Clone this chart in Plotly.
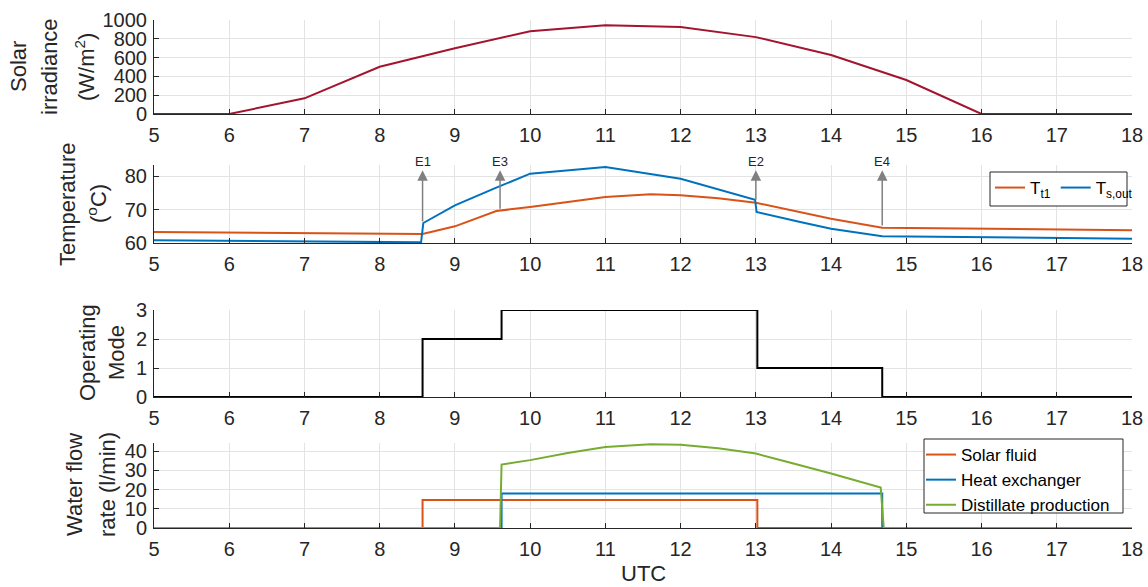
import plotly.graph_objects as go

# ---------------- data ----------------
irr_hours = [5, 6, 7, 8, 9, 10, 11, 12, 13, 14, 15, 16, 17, 18]
irr_values = [0, 0, 167, 503, 700, 880, 945, 925, 818, 628, 362, 0, 0, 0]

tt1_time = [5, 8.0, 8.57, 9.0, 9.55, 10, 10.5, 11, 11.6, 12, 12.5, 13, 14, 14.68, 18]
tt1_values = [63.3, 62.8, 62.7, 65.0, 69.6, 70.8, 72.4, 73.8, 74.6, 74.3, 73.4, 72.1, 67.3, 64.6, 63.8]

tsout_time = [5, 8.55, 8.58, 9.0, 9.55, 10, 11, 12, 12.99, 13.01, 13.59, 14, 14.68, 18]
tsout_values = [60.8, 60.2, 66.0, 71.3, 76.6, 80.8, 82.8, 79.3, 73.0, 69.3, 66.3, 64.3, 62.0, 61.3]

event_names = ["E1", "E3", "E2", "E4"]
event_time = [8.57, 9.6, 13.0, 14.68]
event_base = [66.0, 69.8, 72.5, 64.8]
event_tip = 81.8

mode_time = [5, 8.57, 9.62, 13.02, 14.68, 18]
mode_values = [0, 2, 3, 1, 0, 0]

solar_time = [5, 8.57, 13.02, 18]
solar_values = [0, 14.6, 0, 0]

hx_time = [5, 9.62, 14.68, 18]
hx_values = [0, 17.9, 0, 0]

dist_time = [5, 9.6, 9.62, 9.8, 10, 10.5, 11, 11.6, 12, 12.5, 13, 13.5, 14, 14.66, 14.7, 18]
dist_values = [0, 0, 33.0, 34.0, 35.3, 39.0, 42.1, 43.5, 43.3, 41.5, 38.7, 33.5, 28.3, 21.0, 0, 0]

x_ticks = list(range(5, 19))

# ---------------- style ----------------
W, H = 1148, 587
FONT = "Liberation Sans, Arial, sans-serif"
TXT = "#262626"
GRID = "#e3e3e3"
ORANGE = "#D95319"
BLUE = "#0072BD"
GREEN = "#77AC30"
RED = "#A2142F"

def px_x(p):
    return p / W

def px_y(p):
    return 1 - p / H

X0, X1 = 154, 1132
panels = [(20, 114), (165, 243), (310, 397), (443, 528)]

fig = go.Figure()

fig.add_trace(go.Scatter(x=irr_hours, y=irr_values, mode="lines",
                         line=dict(color=RED, width=2), showlegend=False,
                         xaxis="x", yaxis="y"))

fig.add_trace(go.Scatter(x=tt1_time, y=tt1_values, mode="lines", name="T<sub>t1</sub>",
                         line=dict(color=ORANGE, width=2), xaxis="x2", yaxis="y2",
                         legend="legend"))
fig.add_trace(go.Scatter(x=tsout_time, y=tsout_values, mode="lines", name="T<sub>s,out</sub>",
                         line=dict(color=BLUE, width=2), xaxis="x2", yaxis="y2",
                         legend="legend"))

fig.add_trace(go.Scatter(x=mode_time, y=mode_values, mode="lines", line_shape="hv",
                         line=dict(color="#000000", width=2), showlegend=False,
                         xaxis="x3", yaxis="y3"))

fig.add_trace(go.Scatter(x=solar_time, y=solar_values, mode="lines", line_shape="hv",
                         name="Solar fluid", line=dict(color=ORANGE, width=2),
                         xaxis="x4", yaxis="y4", legend="legend2"))
fig.add_trace(go.Scatter(x=hx_time, y=hx_values, mode="lines", line_shape="hv",
                         name="Heat exchanger", line=dict(color=BLUE, width=2),
                         xaxis="x4", yaxis="y4", legend="legend2"))
fig.add_trace(go.Scatter(x=dist_time, y=dist_values, mode="lines",
                         name="Distillate production", line=dict(color=GREEN, width=2),
                         xaxis="x4", yaxis="y4", legend="legend2"))

axis_common = dict(
    showline=True, linecolor=TXT, linewidth=1, mirror=False,
    ticks="inside", ticklen=5, tickcolor=TXT, tickwidth=1,
    showgrid=True, gridcolor=GRID, gridwidth=1, zeroline=False,
    tickfont=dict(family=FONT, size=20, color=TXT), automargin=False,
)

yranges = [[0, 1000], [60, 83.4], [0, 3], [0, 44.2]]
yticks = [[0, 200, 400, 600, 800, 1000], [60, 70, 80], [0, 1, 2, 3], [0, 10, 20, 30, 40]]

layout = dict(
    width=W, height=H, margin=dict(l=0, r=0, t=0, b=0, autoexpand=False),
    paper_bgcolor="white", plot_bgcolor="white",
    font=dict(family=FONT, color=TXT),
)
for i, (top, bot) in enumerate(panels):
    n = "" if i == 0 else str(i + 1)
    layout["xaxis" + n] = dict(axis_common, domain=[px_x(X0), px_x(X1)], range=[5, 18],
                               tickvals=x_ticks, anchor="y" + n, ticklabelstandoff=3)
    layout["yaxis" + n] = dict(axis_common, domain=[px_y(bot), px_y(top)], range=yranges[i],
                               tickvals=yticks[i], anchor="x" + n, ticklabelstandoff=2)

# legends: transparent, with a drawn frame
layout["legend"] = dict(x=px_x(990), y=px_y(170), xanchor="left", yanchor="top",
                        orientation="h", borderwidth=0, bgcolor="rgba(0,0,0,0)",
                        font=dict(family=FONT, size=17, color="#000"),
                        itemwidth=30, tracegroupgap=0)
layout["legend2"] = dict(x=px_x(921), y=px_y(437), xanchor="left", yanchor="top",
                         orientation="v", borderwidth=0, bgcolor="rgba(0,0,0,0)",
                         font=dict(family=FONT, size=17, color="#000"),
                         itemwidth=30, tracegroupgap=0)
fig.update_layout(**layout)

frames = [(990, 172, 1127, 206), (924, 439, 1123, 513)]
for x0, y0, x1, y1 in frames:
    fig.add_shape(type="rect", xref="paper", yref="paper",
                  x0=px_x(x0), x1=px_x(x1), y0=px_y(y1), y1=px_y(y0),
                  line=dict(color=TXT, width=1), fillcolor="white", layer="above")

# y-axis titles, one annotation per line
title_lines = [
    ("Solar", 19, 67), ("irradiance", 50, 67), ("(W/m<sup>2</sup>)", 85, 67),
    ("Temperature", 67, 204), ("(<sup>o</sup>C)", 97, 204),
    ("Operating", 87, 353), ("Mode", 116, 353),
    ("Water flow", 74, 485), ("rate (l/min)", 107, 485),
]
for txt, cx, cy in title_lines:
    fig.add_annotation(text=txt, x=px_x(cx), y=px_y(cy), xref="paper", yref="paper",
                       xanchor="center", yanchor="middle", textangle=-90, showarrow=False,
                       font=dict(family=FONT, size=22, color=TXT), borderpad=0)

fig.add_annotation(text="UTC", x=px_x(643), y=0, xref="paper", yref="paper",
                   xanchor="center", yanchor="bottom", showarrow=False, borderpad=0,
                   font=dict(family=FONT, size=22, color=TXT))

# event arrows
for name, t, base in zip(event_names, event_time, event_base):
    fig.add_annotation(x=t, y=event_tip, ax=t, ay=base, xref="x2", yref="y2",
                       axref="x2", ayref="y2", text="", showarrow=True,
                       arrowhead=2, arrowsize=1.4, arrowwidth=1.5, arrowcolor="#808080")
    fig.add_annotation(x=t, y=event_tip, xref="x2", yref="y2", text=name,
                       showarrow=False, yanchor="bottom", xanchor="center", borderpad=0,
                       font=dict(family=FONT, size=13, color=TXT))

fig.write_html("out.html")
